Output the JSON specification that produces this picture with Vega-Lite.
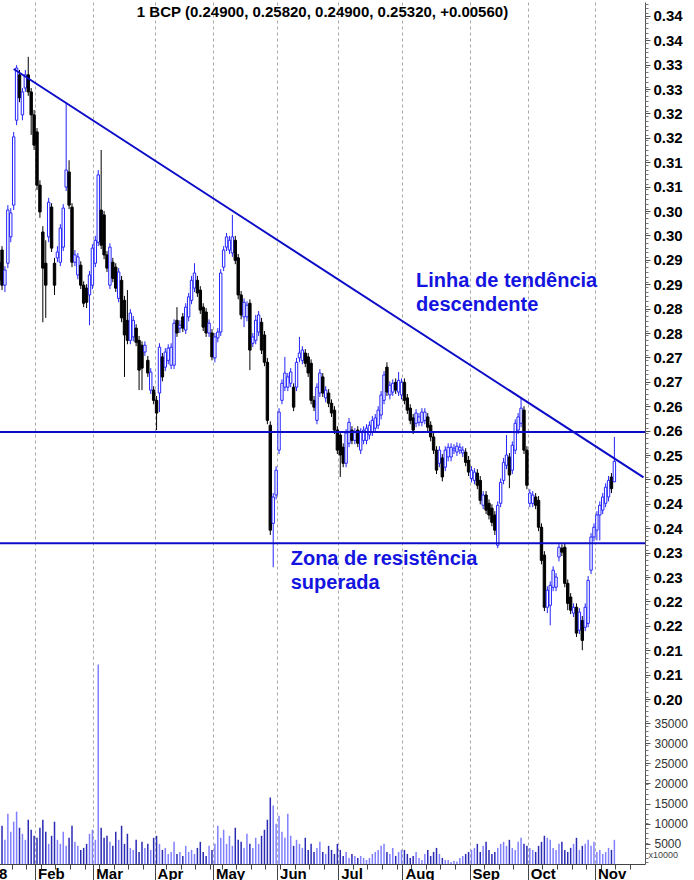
{
  "$schema": "https://vega.github.io/schema/vega-lite/v6.json",
  "width": 645,
  "height": 862,
  "autosize": {"type": "none"},
  "padding": {"left": 0, "top": 2, "right": 49, "bottom": 16},
  "background": "white",
  "config": {
    "view": {"stroke": null},
    "font": "Liberation Sans",
    "axis": {"labelFont": "Liberation Sans", "titleFont": "Liberation Sans"}
  },
  "title": {"text": "1 BCP (0.24900, 0.25820, 0.24900, 0.25320, +0.00560)", "font": "Liberation Sans", "fontSize": 15, "fontWeight": "bold", "color": "black", "anchor": "middle", "frame": "group", "baseline": "top", "offset": -18},
  "datasets": {
    "ohlc": [
{"d":"2018-01-15","o":0.2940,"h":0.2949,"l":0.2895,"c":0.2903,"v":7000},
{"d":"2018-01-16","o":0.2965,"h":0.2973,"l":0.2883,"c":0.2893,"v":9500},
{"d":"2018-01-17","o":0.2893,"h":0.2932,"l":0.2879,"c":0.2924,"v":6000},
{"d":"2018-01-18","o":0.2938,"h":0.3057,"l":0.2928,"c":0.3047,"v":12500},
{"d":"2018-01-19","o":0.2992,"h":0.3051,"l":0.2981,"c":0.3041,"v":8000},
{"d":"2018-01-22","o":0.3057,"h":0.3207,"l":0.3047,"c":0.3197,"v":10500},
{"d":"2018-01-23","o":0.3231,"h":0.3344,"l":0.3221,"c":0.3338,"v":13000},
{"d":"2018-01-24","o":0.3324,"h":0.3334,"l":0.3268,"c":0.3277,"v":9000},
{"d":"2018-01-25","o":0.3242,"h":0.3297,"l":0.3231,"c":0.3289,"v":7500},
{"d":"2018-01-26","o":0.3297,"h":0.3334,"l":0.3289,"c":0.3324,"v":6000},
{"d":"2018-01-29","o":0.3324,"h":0.3361,"l":0.3281,"c":0.3289,"v":11000},
{"d":"2018-01-30","o":0.3289,"h":0.3297,"l":0.3201,"c":0.3242,"v":8500},
{"d":"2018-01-31","o":0.3242,"h":0.3252,"l":0.3170,"c":0.3180,"v":7000},
{"d":"2018-02-01","o":0.3207,"h":0.3215,"l":0.3088,"c":0.3098,"v":6500},
{"d":"2018-02-02","o":0.3098,"h":0.3108,"l":0.3031,"c":0.3043,"v":9000},
{"d":"2018-02-05","o":0.3002,"h":0.3014,"l":0.2817,"c":0.2928,"v":11000},
{"d":"2018-02-06","o":0.2938,"h":0.2985,"l":0.2826,"c":0.2893,"v":8000},
{"d":"2018-02-07","o":0.2992,"h":0.3072,"l":0.2981,"c":0.3063,"v":5000},
{"d":"2018-02-08","o":0.3053,"h":0.3061,"l":0.2961,"c":0.2969,"v":7000},
{"d":"2018-02-09","o":0.2938,"h":0.2949,"l":0.2873,"c":0.2893,"v":10500},
{"d":"2018-02-12","o":0.2949,"h":0.2973,"l":0.2940,"c":0.2961,"v":6000},
{"d":"2018-02-13","o":0.2940,"h":0.3018,"l":0.2932,"c":0.3010,"v":5000},
{"d":"2018-02-14","o":0.2971,"h":0.3059,"l":0.2963,"c":0.3051,"v":8000},
{"d":"2018-02-15","o":0.3094,"h":0.3266,"l":0.3086,"c":0.3129,"v":4500},
{"d":"2018-02-16","o":0.3125,"h":0.3149,"l":0.3049,"c":0.3057,"v":6500},
{"d":"2018-02-19","o":0.3053,"h":0.3061,"l":0.2930,"c":0.2940,"v":9500},
{"d":"2018-02-20","o":0.2940,"h":0.2965,"l":0.2932,"c":0.2955,"v":5500},
{"d":"2018-02-21","o":0.2914,"h":0.2959,"l":0.2905,"c":0.2951,"v":4500},
{"d":"2018-02-22","o":0.2934,"h":0.2942,"l":0.2885,"c":0.2893,"v":3500},
{"d":"2018-02-23","o":0.2893,"h":0.2901,"l":0.2848,"c":0.2856,"v":4000},
{"d":"2018-02-26","o":0.2887,"h":0.2895,"l":0.2846,"c":0.2858,"v":5000},
{"d":"2018-02-27","o":0.2873,"h":0.2922,"l":0.2811,"c":0.2914,"v":7500},
{"d":"2018-02-28","o":0.2893,"h":0.2977,"l":0.2885,"c":0.2969,"v":8500},
{"d":"2018-03-01","o":0.2938,"h":0.2994,"l":0.2930,"c":0.2985,"v":6000},
{"d":"2018-03-02","o":0.2981,"h":0.3129,"l":0.2973,"c":0.3119,"v":49500},
{"d":"2018-03-05","o":0.3047,"h":0.3170,"l":0.2967,"c":0.2975,"v":9000},
{"d":"2018-03-06","o":0.3037,"h":0.3045,"l":0.2946,"c":0.2955,"v":6500},
{"d":"2018-03-07","o":0.2955,"h":0.2963,"l":0.2920,"c":0.2928,"v":7000},
{"d":"2018-03-08","o":0.2893,"h":0.2979,"l":0.2885,"c":0.2971,"v":5500},
{"d":"2018-03-09","o":0.2940,"h":0.2949,"l":0.2899,"c":0.2907,"v":4500},
{"d":"2018-03-12","o":0.2930,"h":0.2938,"l":0.2879,"c":0.2887,"v":8000},
{"d":"2018-03-13","o":0.2866,"h":0.2928,"l":0.2858,"c":0.2920,"v":6000},
{"d":"2018-03-14","o":0.2903,"h":0.2912,"l":0.2817,"c":0.2826,"v":9500},
{"d":"2018-03-15","o":0.2862,"h":0.2871,"l":0.2705,"c":0.2791,"v":5000},
{"d":"2018-03-16","o":0.2821,"h":0.2883,"l":0.2772,"c":0.2780,"v":7500},
{"d":"2018-03-19","o":0.2780,"h":0.2844,"l":0.2772,"c":0.2836,"v":4000},
{"d":"2018-03-20","o":0.2787,"h":0.2830,"l":0.2778,"c":0.2821,"v":3500},
{"d":"2018-03-21","o":0.2805,"h":0.2813,"l":0.2768,"c":0.2776,"v":6000},
{"d":"2018-03-22","o":0.2780,"h":0.2789,"l":0.2678,"c":0.2719,"v":3000},
{"d":"2018-03-23","o":0.2770,"h":0.2778,"l":0.2678,"c":0.2723,"v":5500},
{"d":"2018-03-26","o":0.2756,"h":0.2778,"l":0.2748,"c":0.2770,"v":4000},
{"d":"2018-03-27","o":0.2739,"h":0.2748,"l":0.2705,"c":0.2713,"v":5000},
{"d":"2018-03-28","o":0.2678,"h":0.2723,"l":0.2670,"c":0.2715,"v":3500},
{"d":"2018-03-29","o":0.2678,"h":0.2686,"l":0.2649,"c":0.2657,"v":6500},
{"d":"2018-04-03","o":0.2657,"h":0.2666,"l":0.2596,"c":0.2631,"v":7000},
{"d":"2018-04-04","o":0.2672,"h":0.2774,"l":0.2633,"c":0.2766,"v":5000},
{"d":"2018-04-05","o":0.2746,"h":0.2754,"l":0.2696,"c":0.2705,"v":3500},
{"d":"2018-04-06","o":0.2725,"h":0.2764,"l":0.2717,"c":0.2756,"v":4000},
{"d":"2018-04-09","o":0.2739,"h":0.2772,"l":0.2731,"c":0.2764,"v":2500},
{"d":"2018-04-10","o":0.2729,"h":0.2774,"l":0.2721,"c":0.2766,"v":3000},
{"d":"2018-04-11","o":0.2729,"h":0.2823,"l":0.2721,"c":0.2815,"v":5500},
{"d":"2018-04-12","o":0.2821,"h":0.2848,"l":0.2787,"c":0.2795,"v":2500},
{"d":"2018-04-13","o":0.2805,"h":0.2821,"l":0.2795,"c":0.2811,"v":3000},
{"d":"2018-04-16","o":0.2828,"h":0.2836,"l":0.2797,"c":0.2805,"v":2000},
{"d":"2018-04-17","o":0.2801,"h":0.2856,"l":0.2793,"c":0.2848,"v":4500},
{"d":"2018-04-18","o":0.2828,"h":0.2877,"l":0.2819,"c":0.2869,"v":3000},
{"d":"2018-04-19","o":0.2862,"h":0.2912,"l":0.2854,"c":0.2903,"v":3500},
{"d":"2018-04-20","o":0.2887,"h":0.2938,"l":0.2879,"c":0.2918,"v":2500},
{"d":"2018-04-23","o":0.2903,"h":0.2912,"l":0.2869,"c":0.2877,"v":4000},
{"d":"2018-04-24","o":0.2883,"h":0.2891,"l":0.2834,"c":0.2842,"v":5500},
{"d":"2018-04-25","o":0.2848,"h":0.2856,"l":0.2799,"c":0.2807,"v":3000},
{"d":"2018-04-26","o":0.2838,"h":0.2846,"l":0.2787,"c":0.2795,"v":2000},
{"d":"2018-04-27","o":0.2795,"h":0.2823,"l":0.2787,"c":0.2815,"v":4500},
{"d":"2018-04-30","o":0.2795,"h":0.2803,"l":0.2739,"c":0.2746,"v":3500},
{"d":"2018-05-02","o":0.2744,"h":0.2795,"l":0.2735,"c":0.2787,"v":5000},
{"d":"2018-05-03","o":0.2785,"h":0.2805,"l":0.2776,"c":0.2797,"v":9500},
{"d":"2018-05-04","o":0.2797,"h":0.2926,"l":0.2789,"c":0.2918,"v":6500},
{"d":"2018-05-07","o":0.2930,"h":0.2973,"l":0.2922,"c":0.2965,"v":8500},
{"d":"2018-05-08","o":0.2971,"h":0.3000,"l":0.2963,"c":0.2992,"v":5000},
{"d":"2018-05-09","o":0.2965,"h":0.2994,"l":0.2957,"c":0.2985,"v":7000},
{"d":"2018-05-10","o":0.2959,"h":0.3037,"l":0.2951,"c":0.2992,"v":4500},
{"d":"2018-05-11","o":0.2985,"h":0.2994,"l":0.2936,"c":0.2944,"v":9000},
{"d":"2018-05-14","o":0.2949,"h":0.2957,"l":0.2864,"c":0.2873,"v":6000},
{"d":"2018-05-15","o":0.2873,"h":0.2881,"l":0.2823,"c":0.2832,"v":5500},
{"d":"2018-05-16","o":0.2828,"h":0.2866,"l":0.2807,"c":0.2858,"v":4000},
{"d":"2018-05-17","o":0.2828,"h":0.2860,"l":0.2819,"c":0.2852,"v":7500},
{"d":"2018-05-18","o":0.2856,"h":0.2864,"l":0.2719,"c":0.2760,"v":5000},
{"d":"2018-05-21","o":0.2774,"h":0.2795,"l":0.2766,"c":0.2787,"v":4000},
{"d":"2018-05-22","o":0.2780,"h":0.2832,"l":0.2772,"c":0.2821,"v":6500},
{"d":"2018-05-23","o":0.2797,"h":0.2840,"l":0.2789,"c":0.2832,"v":5000},
{"d":"2018-05-24","o":0.2817,"h":0.2826,"l":0.2752,"c":0.2760,"v":7000},
{"d":"2018-05-25","o":0.2791,"h":0.2799,"l":0.2727,"c":0.2735,"v":8500},
{"d":"2018-05-28","o":0.2735,"h":0.2744,"l":0.2608,"c":0.2616,"v":11000},
{"d":"2018-05-29","o":0.2606,"h":0.2614,"l":0.2381,"c":0.2391,"v":16500},
{"d":"2018-05-30","o":0.2405,"h":0.2467,"l":0.2315,"c":0.2459,"v":14500},
{"d":"2018-05-31","o":0.2463,"h":0.2522,"l":0.2454,"c":0.2514,"v":10000},
{"d":"2018-06-01","o":0.2555,"h":0.2641,"l":0.2547,"c":0.2633,"v":12000},
{"d":"2018-06-04","o":0.2657,"h":0.2700,"l":0.2649,"c":0.2692,"v":8000},
{"d":"2018-06-05","o":0.2684,"h":0.2746,"l":0.2676,"c":0.2713,"v":6500},
{"d":"2018-06-06","o":0.2684,"h":0.2713,"l":0.2676,"c":0.2705,"v":12500},
{"d":"2018-06-07","o":0.2692,"h":0.2723,"l":0.2684,"c":0.2715,"v":7000},
{"d":"2018-06-08","o":0.2684,"h":0.2692,"l":0.2635,"c":0.2643,"v":4500},
{"d":"2018-06-11","o":0.2684,"h":0.2744,"l":0.2676,"c":0.2735,"v":6000},
{"d":"2018-06-12","o":0.2744,"h":0.2787,"l":0.2735,"c":0.2754,"v":5000},
{"d":"2018-06-13","o":0.2739,"h":0.2768,"l":0.2731,"c":0.2760,"v":4000},
{"d":"2018-06-14","o":0.2754,"h":0.2762,"l":0.2725,"c":0.2733,"v":6500},
{"d":"2018-06-15","o":0.2746,"h":0.2754,"l":0.2705,"c":0.2713,"v":3500},
{"d":"2018-06-18","o":0.2733,"h":0.2741,"l":0.2649,"c":0.2657,"v":5000},
{"d":"2018-06-19","o":0.2657,"h":0.2666,"l":0.2635,"c":0.2643,"v":3000},
{"d":"2018-06-20","o":0.2616,"h":0.2692,"l":0.2608,"c":0.2684,"v":4000},
{"d":"2018-06-21","o":0.2672,"h":0.2721,"l":0.2664,"c":0.2713,"v":5500},
{"d":"2018-06-22","o":0.2705,"h":0.2713,"l":0.2664,"c":0.2672,"v":3000},
{"d":"2018-06-25","o":0.2662,"h":0.2686,"l":0.2653,"c":0.2678,"v":2500},
{"d":"2018-06-26","o":0.2672,"h":0.2680,"l":0.2643,"c":0.2651,"v":4500},
{"d":"2018-06-27","o":0.2651,"h":0.2659,"l":0.2623,"c":0.2631,"v":3500},
{"d":"2018-06-28","o":0.2637,"h":0.2645,"l":0.2588,"c":0.2596,"v":2500},
{"d":"2018-06-29","o":0.2596,"h":0.2604,"l":0.2547,"c":0.2555,"v":5000},
{"d":"2018-07-02","o":0.2586,"h":0.2594,"l":0.2500,"c":0.2545,"v":3500},
{"d":"2018-07-03","o":0.2561,"h":0.2569,"l":0.2520,"c":0.2528,"v":2000},
{"d":"2018-07-04","o":0.2528,"h":0.2598,"l":0.2520,"c":0.2590,"v":3000},
{"d":"2018-07-05","o":0.2569,"h":0.2621,"l":0.2561,"c":0.2612,"v":1500},
{"d":"2018-07-06","o":0.2596,"h":0.2604,"l":0.2567,"c":0.2575,"v":2500},
{"d":"2018-07-09","o":0.2575,"h":0.2600,"l":0.2567,"c":0.2592,"v":2000},
{"d":"2018-07-10","o":0.2596,"h":0.2604,"l":0.2561,"c":0.2569,"v":1500},
{"d":"2018-07-11","o":0.2555,"h":0.2600,"l":0.2547,"c":0.2592,"v":2000},
{"d":"2018-07-12","o":0.2575,"h":0.2604,"l":0.2567,"c":0.2596,"v":1500},
{"d":"2018-07-13","o":0.2575,"h":0.2608,"l":0.2567,"c":0.2600,"v":1000},
{"d":"2018-07-16","o":0.2586,"h":0.2614,"l":0.2577,"c":0.2606,"v":1500},
{"d":"2018-07-17","o":0.2592,"h":0.2625,"l":0.2584,"c":0.2616,"v":2500},
{"d":"2018-07-18","o":0.2600,"h":0.2629,"l":0.2592,"c":0.2621,"v":3000},
{"d":"2018-07-19","o":0.2606,"h":0.2645,"l":0.2598,"c":0.2637,"v":3500},
{"d":"2018-07-20","o":0.2627,"h":0.2676,"l":0.2618,"c":0.2668,"v":4500},
{"d":"2018-07-23","o":0.2657,"h":0.2717,"l":0.2649,"c":0.2709,"v":5000},
{"d":"2018-07-24","o":0.2725,"h":0.2735,"l":0.2666,"c":0.2674,"v":3000},
{"d":"2018-07-25","o":0.2668,"h":0.2696,"l":0.2659,"c":0.2688,"v":2500},
{"d":"2018-07-26","o":0.2674,"h":0.2700,"l":0.2666,"c":0.2692,"v":4000},
{"d":"2018-07-27","o":0.2694,"h":0.2702,"l":0.2670,"c":0.2678,"v":2000},
{"d":"2018-07-30","o":0.2674,"h":0.2715,"l":0.2666,"c":0.2698,"v":3000},
{"d":"2018-07-31","o":0.2668,"h":0.2702,"l":0.2659,"c":0.2694,"v":3500},
{"d":"2018-08-01","o":0.2694,"h":0.2702,"l":0.2649,"c":0.2657,"v":3500},
{"d":"2018-08-02","o":0.2662,"h":0.2670,"l":0.2629,"c":0.2637,"v":2500},
{"d":"2018-08-03","o":0.2641,"h":0.2649,"l":0.2608,"c":0.2616,"v":1500},
{"d":"2018-08-06","o":0.2621,"h":0.2629,"l":0.2588,"c":0.2596,"v":2000},
{"d":"2018-08-07","o":0.2610,"h":0.2639,"l":0.2602,"c":0.2631,"v":3000},
{"d":"2018-08-08","o":0.2612,"h":0.2631,"l":0.2604,"c":0.2623,"v":1500},
{"d":"2018-08-09","o":0.2612,"h":0.2641,"l":0.2604,"c":0.2633,"v":1000},
{"d":"2018-08-10","o":0.2616,"h":0.2641,"l":0.2608,"c":0.2633,"v":2500},
{"d":"2018-08-13","o":0.2623,"h":0.2631,"l":0.2594,"c":0.2602,"v":3500},
{"d":"2018-08-14","o":0.2606,"h":0.2614,"l":0.2573,"c":0.2582,"v":2000},
{"d":"2018-08-15","o":0.2582,"h":0.2590,"l":0.2547,"c":0.2555,"v":3000},
{"d":"2018-08-16","o":0.2555,"h":0.2563,"l":0.2506,"c":0.2514,"v":4000},
{"d":"2018-08-17","o":0.2528,"h":0.2563,"l":0.2520,"c":0.2555,"v":2500},
{"d":"2018-08-20","o":0.2539,"h":0.2547,"l":0.2491,"c":0.2500,"v":1500},
{"d":"2018-08-21","o":0.2520,"h":0.2563,"l":0.2512,"c":0.2555,"v":1000},
{"d":"2018-08-22","o":0.2541,"h":0.2569,"l":0.2532,"c":0.2561,"v":1000},
{"d":"2018-08-23","o":0.2541,"h":0.2569,"l":0.2532,"c":0.2561,"v":500},
{"d":"2018-08-24","o":0.2555,"h":0.2567,"l":0.2547,"c":0.2559,"v":800},
{"d":"2018-08-27","o":0.2551,"h":0.2571,"l":0.2543,"c":0.2563,"v":600},
{"d":"2018-08-28","o":0.2555,"h":0.2569,"l":0.2547,"c":0.2561,"v":1500},
{"d":"2018-08-29","o":0.2549,"h":0.2563,"l":0.2541,"c":0.2555,"v":2000},
{"d":"2018-08-30","o":0.2551,"h":0.2559,"l":0.2522,"c":0.2530,"v":2500},
{"d":"2018-08-31","o":0.2534,"h":0.2543,"l":0.2502,"c":0.2510,"v":3000},
{"d":"2018-09-03","o":0.2497,"h":0.2522,"l":0.2489,"c":0.2514,"v":3500},
{"d":"2018-09-04","o":0.2493,"h":0.2518,"l":0.2485,"c":0.2510,"v":4000},
{"d":"2018-09-05","o":0.2508,"h":0.2516,"l":0.2475,"c":0.2483,"v":5000},
{"d":"2018-09-06","o":0.2493,"h":0.2502,"l":0.2444,"c":0.2452,"v":3000},
{"d":"2018-09-07","o":0.2442,"h":0.2471,"l":0.2434,"c":0.2463,"v":4500},
{"d":"2018-09-10","o":0.2463,"h":0.2471,"l":0.2424,"c":0.2432,"v":5500},
{"d":"2018-09-11","o":0.2446,"h":0.2454,"l":0.2413,"c":0.2422,"v":3500},
{"d":"2018-09-12","o":0.2436,"h":0.2444,"l":0.2399,"c":0.2407,"v":2500},
{"d":"2018-09-13","o":0.2422,"h":0.2430,"l":0.2381,"c":0.2391,"v":3000},
{"d":"2018-09-14","o":0.2360,"h":0.2450,"l":0.2354,"c":0.2442,"v":4000},
{"d":"2018-09-17","o":0.2446,"h":0.2497,"l":0.2438,"c":0.2489,"v":5000},
{"d":"2018-09-18","o":0.2493,"h":0.2539,"l":0.2485,"c":0.2530,"v":5500},
{"d":"2018-09-19","o":0.2524,"h":0.2586,"l":0.2516,"c":0.2545,"v":4500},
{"d":"2018-09-20","o":0.2541,"h":0.2549,"l":0.2477,"c":0.2504,"v":6000},
{"d":"2018-09-21","o":0.2514,"h":0.2573,"l":0.2506,"c":0.2565,"v":4000},
{"d":"2018-09-24","o":0.2555,"h":0.2618,"l":0.2547,"c":0.2610,"v":3500},
{"d":"2018-09-25","o":0.2596,"h":0.2631,"l":0.2588,"c":0.2623,"v":5500},
{"d":"2018-09-26","o":0.2610,"h":0.2662,"l":0.2602,"c":0.2641,"v":6500},
{"d":"2018-09-27","o":0.2637,"h":0.2645,"l":0.2547,"c":0.2555,"v":5000},
{"d":"2018-09-28","o":0.2555,"h":0.2563,"l":0.2475,"c":0.2483,"v":4500},
{"d":"2018-10-01","o":0.2446,"h":0.2475,"l":0.2438,"c":0.2467,"v":4000},
{"d":"2018-10-02","o":0.2446,"h":0.2471,"l":0.2438,"c":0.2463,"v":3500},
{"d":"2018-10-03","o":0.2459,"h":0.2467,"l":0.2434,"c":0.2442,"v":3000},
{"d":"2018-10-04","o":0.2452,"h":0.2461,"l":0.2389,"c":0.2397,"v":4500},
{"d":"2018-10-05","o":0.2397,"h":0.2405,"l":0.2321,"c":0.2329,"v":5500},
{"d":"2018-10-08","o":0.2340,"h":0.2348,"l":0.2225,"c":0.2233,"v":7000},
{"d":"2018-10-09","o":0.2233,"h":0.2276,"l":0.2221,"c":0.2268,"v":6500},
{"d":"2018-10-10","o":0.2237,"h":0.2286,"l":0.2196,"c":0.2278,"v":6000},
{"d":"2018-10-11","o":0.2274,"h":0.2317,"l":0.2266,"c":0.2309,"v":4000},
{"d":"2018-10-12","o":0.2274,"h":0.2303,"l":0.2266,"c":0.2295,"v":3500},
{"d":"2018-10-15","o":0.2336,"h":0.2364,"l":0.2327,"c":0.2356,"v":5000},
{"d":"2018-10-16","o":0.2354,"h":0.2362,"l":0.2338,"c":0.2346,"v":5500},
{"d":"2018-10-17","o":0.2356,"h":0.2364,"l":0.2274,"c":0.2282,"v":3500},
{"d":"2018-10-18","o":0.2282,"h":0.2290,"l":0.2227,"c":0.2241,"v":3000},
{"d":"2018-10-19","o":0.2254,"h":0.2262,"l":0.2219,"c":0.2227,"v":4000},
{"d":"2018-10-22","o":0.2221,"h":0.2241,"l":0.2213,"c":0.2233,"v":5000},
{"d":"2018-10-23","o":0.2233,"h":0.2241,"l":0.2172,"c":0.2180,"v":6500},
{"d":"2018-10-24","o":0.2186,"h":0.2231,"l":0.2178,"c":0.2223,"v":3500},
{"d":"2018-10-25","o":0.2206,"h":0.2215,"l":0.2145,"c":0.2165,"v":4500},
{"d":"2018-10-26","o":0.2192,"h":0.2241,"l":0.2184,"c":0.2233,"v":5000},
{"d":"2018-10-29","o":0.2200,"h":0.2297,"l":0.2192,"c":0.2288,"v":6000},
{"d":"2018-10-30","o":0.2309,"h":0.2385,"l":0.2301,"c":0.2377,"v":4500},
{"d":"2018-10-31","o":0.2377,"h":0.2405,"l":0.2368,"c":0.2397,"v":5500},
{"d":"2018-11-01","o":0.2391,"h":0.2430,"l":0.2370,"c":0.2422,"v":3000},
{"d":"2018-11-02","o":0.2422,"h":0.2450,"l":0.2370,"c":0.2442,"v":3500},
{"d":"2018-11-05","o":0.2432,"h":0.2467,"l":0.2424,"c":0.2459,"v":2500},
{"d":"2018-11-06","o":0.2446,"h":0.2487,"l":0.2438,"c":0.2479,"v":3000},
{"d":"2018-11-07","o":0.2459,"h":0.2502,"l":0.2450,"c":0.2493,"v":4000},
{"d":"2018-11-08","o":0.2500,"h":0.2508,"l":0.2467,"c":0.2476,"v":3500},
{"d":"2018-11-09","o":0.2490,"h":0.2582,"l":0.2490,"c":0.2532,"v":6000}
    ],
    "trend": [{"d": "2018-01-22", "p": 0.3336}, {"d": "2018-11-23", "p": 0.2499}],
    "levels": [{"p": 0.2592}, {"p": 0.2364}],
    "notes": [
      {"d": "2018-08-07", "p": 0.29016, "t": "Linha de tendência"},
      {"d": "2018-08-07", "p": 0.28524, "t": "descendente"},
      {"d": "2018-06-07", "p": 0.23319, "t": "Zona de resistência"},
      {"d": "2018-06-07", "p": 0.22827, "t": "superada"}
    ]
  },
  "layer": [
    {
      "layer": [
        {
          "data": {"name": "ohlc"},
          "mark": {"type": "rule", "strokeWidth": 1},
          "encoding": {
            "x": {
              "field": "d", "type": "ordinal",
              "scale": {
                "domain": ["2018-01-02","2018-01-03","2018-01-04","2018-01-05","2018-01-08","2018-01-09","2018-01-10","2018-01-11","2018-01-12","2018-01-15","2018-01-16","2018-01-17","2018-01-18","2018-01-19","2018-01-22","2018-01-23","2018-01-24","2018-01-25","2018-01-26","2018-01-29","2018-01-30","2018-01-31",
                "2018-02-01","2018-02-02","2018-02-05","2018-02-06","2018-02-07","2018-02-08","2018-02-09","2018-02-12","2018-02-13","2018-02-14","2018-02-15","2018-02-16","2018-02-19","2018-02-20","2018-02-21","2018-02-22","2018-02-23","2018-02-26","2018-02-27","2018-02-28",
                "2018-03-01","2018-03-02","2018-03-05","2018-03-06","2018-03-07","2018-03-08","2018-03-09","2018-03-12","2018-03-13","2018-03-14","2018-03-15","2018-03-16","2018-03-19","2018-03-20","2018-03-21","2018-03-22","2018-03-23","2018-03-26","2018-03-27","2018-03-28","2018-03-29",
                "2018-04-03","2018-04-04","2018-04-05","2018-04-06","2018-04-09","2018-04-10","2018-04-11","2018-04-12","2018-04-13","2018-04-16","2018-04-17","2018-04-18","2018-04-19","2018-04-20","2018-04-23","2018-04-24","2018-04-25","2018-04-26","2018-04-27","2018-04-30",
                "2018-05-02","2018-05-03","2018-05-04","2018-05-07","2018-05-08","2018-05-09","2018-05-10","2018-05-11","2018-05-14","2018-05-15","2018-05-16","2018-05-17","2018-05-18","2018-05-21","2018-05-22","2018-05-23","2018-05-24","2018-05-25","2018-05-28","2018-05-29","2018-05-30","2018-05-31",
                "2018-06-01","2018-06-04","2018-06-05","2018-06-06","2018-06-07","2018-06-08","2018-06-11","2018-06-12","2018-06-13","2018-06-14","2018-06-15","2018-06-18","2018-06-19","2018-06-20","2018-06-21","2018-06-22","2018-06-25","2018-06-26","2018-06-27","2018-06-28","2018-06-29",
                "2018-07-02","2018-07-03","2018-07-04","2018-07-05","2018-07-06","2018-07-09","2018-07-10","2018-07-11","2018-07-12","2018-07-13","2018-07-16","2018-07-17","2018-07-18","2018-07-19","2018-07-20","2018-07-23","2018-07-24","2018-07-25","2018-07-26","2018-07-27","2018-07-30","2018-07-31",
                "2018-08-01","2018-08-02","2018-08-03","2018-08-06","2018-08-07","2018-08-08","2018-08-09","2018-08-10","2018-08-13","2018-08-14","2018-08-15","2018-08-16","2018-08-17","2018-08-20","2018-08-21","2018-08-22","2018-08-23","2018-08-24","2018-08-27","2018-08-28","2018-08-29","2018-08-30","2018-08-31",
                "2018-09-03","2018-09-04","2018-09-05","2018-09-06","2018-09-07","2018-09-10","2018-09-11","2018-09-12","2018-09-13","2018-09-14","2018-09-17","2018-09-18","2018-09-19","2018-09-20","2018-09-21","2018-09-24","2018-09-25","2018-09-26","2018-09-27","2018-09-28",
                "2018-10-01","2018-10-02","2018-10-03","2018-10-04","2018-10-05","2018-10-08","2018-10-09","2018-10-10","2018-10-11","2018-10-12","2018-10-15","2018-10-16","2018-10-17","2018-10-18","2018-10-19","2018-10-22","2018-10-23","2018-10-24","2018-10-25","2018-10-26","2018-10-29","2018-10-30","2018-10-31",
                "2018-11-01","2018-11-02","2018-11-05","2018-11-06","2018-11-07","2018-11-08","2018-11-09","2018-11-12","2018-11-13","2018-11-14","2018-11-15","2018-11-16","2018-11-19","2018-11-20","2018-11-21","2018-11-22","2018-11-23"],
                "range": [-28.6, 645],
                "paddingInner": 0,
                "paddingOuter": 0
              },
              "axis": {
                "orient": "bottom",
                "values": ["2018-01-02","2018-02-01","2018-03-01","2018-04-03","2018-05-02","2018-06-01","2018-07-02","2018-08-01","2018-09-03","2018-10-01","2018-11-01"],
                "labelExpr": "datum.value == '2018-01-02' ? '2018' : ['Jan','Feb','Mar','Apr','May','Jun','Jul','Aug','Sep','Oct','Nov','Dec'][toNumber(substring(datum.value, 5, 7)) - 1]",
                "bandPosition": 0,
                "grid": true, "gridDash": [3, 3], "gridColor": "#a8a8a8", "gridWidth": 1,
                "tickSize": 16, "tickColor": "#444444", "tickWidth": 1,
                "domain": true, "domainColor": "#444444",
                "labelAlign": "left", "labelBaseline": "top", "labelPadding": -14, "labelOffset": 1,
                "labelFontSize": 15, "labelFontWeight": "bold", "labelColor": "black",
                "labelAngle": 0, "labelOverlap": false, "labelBound": false, "labelFlush": false,
                "title": null
              }
            },
            "y": {
              "field": "l", "type": "quantitative",
              "scale": {"domain": [0.17069, 0.34733], "nice": false, "zero": false},
              "axis": {
                "orient": "right",
                "values": [0.2045,0.2095,0.2145,0.2195,0.2245,0.2295,0.2345,0.2395,0.2445,0.2495,0.2545,0.2595,0.2645,0.2695,0.2745,0.2795,0.2845,0.2895,0.2945,0.2995,0.3045,0.3095,0.3145,0.3195,0.3245,0.3295,0.3345,0.3395,0.3445],
                "format": ".2f",
                "tickSize": 5, "tickColor": "#555555",
                "domain": true, "domainColor": "#555555",
                "labelFontSize": 15, "labelFontWeight": "bold", "labelColor": "black", "labelPadding": 3,
                "labelOverlap": false, "labelFlush": false, "labelBound": false,
                "grid": false, "title": null
              }
            },
            "y2": {"field": "h"},
            "color": {"condition": {"test": "datum.c < datum.o", "value": "black"}, "value": "#2424ff"}
          }
        },
        {
          "data": {"name": "ohlc"},
          "mark": {"type": "bar", "width": 2.4, "strokeWidth": 1},
          "encoding": {
            "x": {
              "field": "d", "type": "ordinal",
              "axis": {
                "orient": "bottom",
                "values": ["2018-01-02","2018-01-08","2018-01-15","2018-01-22","2018-01-29","2018-02-05","2018-02-12","2018-02-19","2018-02-26","2018-03-05","2018-03-12","2018-03-19","2018-03-26","2018-04-03","2018-04-09","2018-04-16","2018-04-23","2018-04-30","2018-05-07","2018-05-14","2018-05-21","2018-05-28","2018-06-04","2018-06-11","2018-06-18","2018-06-25","2018-07-02","2018-07-09","2018-07-16","2018-07-23","2018-07-30","2018-08-06","2018-08-13","2018-08-20","2018-08-27","2018-09-03","2018-09-10","2018-09-17","2018-09-24","2018-10-01","2018-10-08","2018-10-15","2018-10-22","2018-10-29","2018-11-05","2018-11-12","2018-11-19"],
                "bandPosition": 0,
                "tickSize": 5, "tickColor": "#444444",
                "labels": false, "domain": false, "grid": false, "title": null
              }
            },
            "y": {
              "field": "o", "type": "quantitative",
              "axis": {
                "orient": "right",
                "tickCount": 176,
                "tickSize": 3, "tickColor": "#777777",
                "labels": false, "domain": false, "grid": false, "title": null
              }
            },
            "y2": {"field": "c"},
            "fill": {"condition": {"test": "datum.c < datum.o", "value": "black"}, "value": "white"},
            "stroke": {"condition": {"test": "datum.c < datum.o", "value": "black"}, "value": "#2424ff"}
          }
        },
        {
          "data": {"name": "levels"},
          "mark": {"type": "rule", "color": "#0c0cc8", "strokeWidth": 2},
          "encoding": {"y": {"field": "p", "type": "quantitative", "axis": null}}
        },
        {
          "data": {"name": "trend"},
          "mark": {"type": "line", "color": "#0c0cc8", "strokeWidth": 2},
          "encoding": {
            "x": {"field": "d", "type": "ordinal", "axis": null},
            "y": {"field": "p", "type": "quantitative", "axis": null}
          }
        },
        {
          "data": {"name": "notes"},
          "mark": {"type": "text", "align": "left", "baseline": "middle", "font": "Liberation Sans", "fontSize": 20, "fontWeight": "bold", "color": "#1414e0"},
          "encoding": {
            "x": {"field": "d", "type": "ordinal", "axis": null},
            "y": {"field": "p", "type": "quantitative", "axis": null},
            "text": {"field": "t", "type": "nominal"}
          }
        }
      ],
      "resolve": {"axis": {"x": "independent", "y": "independent"}}
    },
    {
      "data": {"name": "ohlc"},
      "mark": {"type": "bar", "width": 1.5},
      "encoding": {
        "x": {"field": "d", "type": "ordinal", "axis": null},
        "y": {
          "field": "v", "type": "quantitative",
          "scale": {"domain": [0, 214000], "nice": false},
          "axis": {
            "orient": "right",
            "values": [5000, 10000, 15000, 20000, 25000, 30000, 35000],
            "format": "d",
            "tickSize": 5, "tickColor": "#555555",
            "domain": false,
            "labelFontSize": 12, "labelColor": "#333333", "labelPadding": 4,
            "labelOverlap": false, "labelFlush": false, "labelBound": false,
            "grid": false,
            "title": "x10000", "titleFontSize": 9, "titleFontWeight": "normal", "titleColor": "#444444",
            "titleAngle": 0, "titleAlign": "left", "titleBaseline": "middle", "titleX": 3, "titleY": 852
          }
        },
        "color": {"condition": {"test": "datum.c < datum.o", "value": "#2a2ab4"}, "value": "#8080ff"}
      }
    }
  ],
  "resolve": {"scale": {"y": "independent"}, "axis": {"y": "independent"}}
}
